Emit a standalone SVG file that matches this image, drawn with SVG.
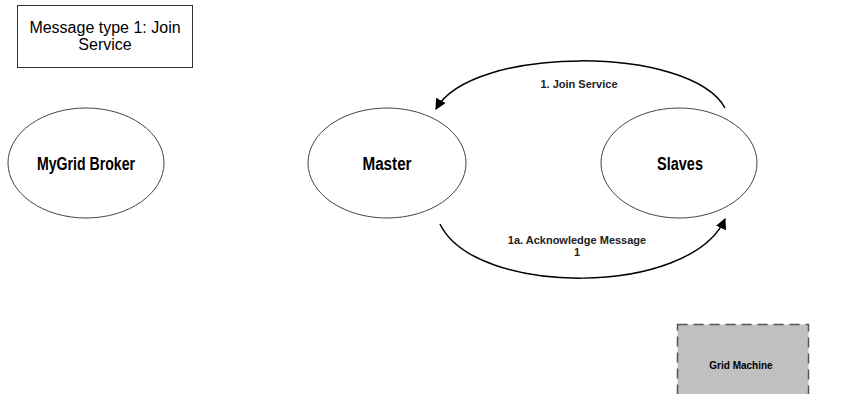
<svg xmlns="http://www.w3.org/2000/svg" width="842" height="394" viewBox="0 0 842 394">
  <style>
    .node { fill: #ffffff; stroke: #444444; stroke-width: 1; }
    .label { font-family: "Liberation Sans", Arial, sans-serif; font-weight: bold; fill: #000000; text-anchor: middle; }
    .edge { fill: none; stroke: #000000; stroke-width: 1.5; marker-end: url(#arrow); }
    .elabel { font-family: "Liberation Sans", Arial, sans-serif; font-weight: bold; font-size: 11px; fill: #222222; text-anchor: middle; }
    .note { font-family: "Liberation Sans", Arial, sans-serif; font-size: 16px; fill: #000000; text-anchor: middle; }
  </style>
  <defs>
    <marker id="arrow" viewBox="0 0 10 10" refX="9" refY="5" markerWidth="11" markerHeight="11" markerUnits="userSpaceOnUse" orient="auto">
      <path d="M0,0 L10,5 L0,10 z" fill="#000000"/>
    </marker>
  </defs>
  <rect width="842" height="394" fill="#ffffff"/>

  <g id="note">
    <rect x="17.5" y="5.5" width="175" height="62" fill="#ffffff" stroke="#333333" stroke-width="1"/>
    <text class="note" x="105" y="33">Message type 1: Join</text>
    <text class="note" x="105" y="50">Service</text>
  </g>

  <g id="broker">
    <ellipse class="node" cx="86" cy="163" rx="78" ry="55"/>
    <text class="label" x="86" y="170" font-size="18" textLength="98" lengthAdjust="spacingAndGlyphs">MyGrid Broker</text>
  </g>

  <g id="master">
    <ellipse class="node" cx="387" cy="163" rx="79" ry="55"/>
    <text class="label" x="387" y="170" font-size="18" textLength="49" lengthAdjust="spacingAndGlyphs">Master</text>
  </g>

  <g id="slaves">
    <ellipse class="node" cx="679" cy="163" rx="78" ry="55"/>
    <text class="label" x="680" y="170" font-size="18" textLength="46" lengthAdjust="spacingAndGlyphs">Slaves</text>
  </g>

  <g id="grid-machine">
    <rect x="677.5" y="324.5" width="131" height="80" fill="#c0c0c0" stroke="#555555" stroke-width="1.5" stroke-dasharray="10,6"/>
    <text class="label" x="741" y="369" font-size="10">Grid Machine</text>
  </g>

  <g id="connectors">
    <path class="edge" d="M725,108 C690,45 472,45 436,109"/>
    <text class="elabel" x="579" y="88">1. Join Service</text>
    <path class="edge" d="M440,224 C475,297 690,297 725,219"/>
    <text class="elabel" x="577" y="244">1a. Acknowledge Message</text>
    <text class="elabel" x="577" y="256">1</text>
  </g>
</svg>
